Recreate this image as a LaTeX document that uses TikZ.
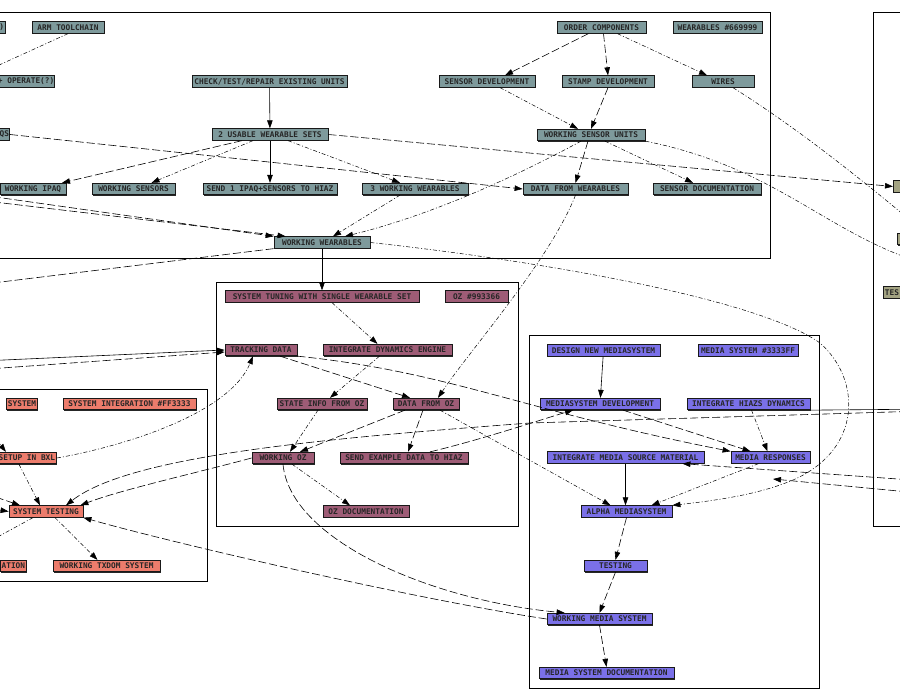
\documentclass[tikz,border=0pt]{standalone}
\usepackage{fontspec}
\setmonofont{DejaVu Sans Mono}
\usepackage{xcolor}
\usetikzlibrary{arrows.meta,shadows}
\definecolor{wearcol}{RGB}{126,154,156}
\definecolor{ozcol}{RGB}{158,92,118}
\definecolor{mediacol}{RGB}{122,112,232}
\definecolor{syscol}{RGB}{236,124,108}
\definecolor{integcol}{RGB}{163,163,130}

\begin{document}
\begin{tikzpicture}[x=1pt,y=-1pt,
  >={Triangle[length=8pt,width=5.5pt]},
  box/.style={draw=black!90, line width=0.8pt, text=black!85,
    font=\ttfamily\bfseries\fontsize{7.8}{8}\selectfont,
    general shadow={fill=black!85, shadow xshift=0.8pt, shadow yshift=-0.8pt},
    minimum height=11.5pt, inner xsep=1.5pt, inner ysep=1pt},
  wbox/.style={box, fill=wearcol},
  obox/.style={box, fill=ozcol},
  mbox/.style={box, fill=mediacol},
  sbox/.style={box, fill=syscol},
  ibox/.style={box, fill=integcol},
  cluster/.style={draw=black, line width=0.7pt},
  solidedge/.style={->, line width=0.6pt},
  dashedge/.style={->, line width=0.6pt, dash pattern=on 8pt off 3pt},
  dotedge/.style={->, line width=0.5pt, dash pattern=on 4pt off 2pt on 1pt off 2pt}]
\useasboundingbox (0,0) rectangle (900,700);
\fill[white] (0,0) rectangle (900,700);
\clip (0,0) rectangle (900,700);
% кластеры
\draw[cluster] (-20,12) rectangle (770,258);
\draw[cluster] (873,12) rectangle (930,526);
\draw[cluster] (216,282) rectangle (518,526);
\draw[cluster] (529,335) rectangle (819,688);
\draw[cluster] (-20,389) rectangle (207,581);
% узлы: wearables
\node[wbox, anchor=east] (qmark) at (6,27.5) {?)};
\node[wbox, minimum width=72pt] (armtool) at (68,27.5) {ARM TOOLCHAIN};
\node[wbox, anchor=east, inner xsep=0.3pt] (operate) at (55,81.5) {+ OPERATE(?)};
\node[wbox, anchor=east, inner xsep=0.5pt] (qs) at (10,134.5) {QS};
\node[wbox, minimum width=155pt] (check) at (269.5,81.5) {CHECK/TEST/REPAIR EXISTING UNITS};
\node[wbox, minimum width=116pt] (usable) at (270,134.5) {2 USABLE WEARABLE SETS};
\node[wbox, minimum width=66pt] (ipaq) at (33,189) {WORKING IPAQ};
\node[wbox, minimum width=83pt] (wsensors) at (133.5,189) {WORKING SENSORS};
\node[wbox, minimum width=134pt] (send) at (270,189) {SEND 1 IPAQ+SENSORS TO HIAZ};
\node[wbox, minimum width=106pt] (threeww) at (415,189) {3 WORKING WEARABLES};
\node[wbox, minimum width=96pt] (wwear) at (322,242.5) {WORKING WEARABLES};
\node[wbox, minimum width=89pt] (order) at (601.5,27.5) {ORDER COMPONENTS};
\node[wbox, minimum width=89pt] (wlegend) at (717.5,27.5) {WEARABLES \#669999};
\node[wbox, minimum width=96pt] (sensdev) at (487,81.5) {SENSOR DEVELOPMENT};
\node[wbox, minimum width=92pt] (stamp) at (608,81.5) {STAMP DEVELOPMENT};
\node[wbox, minimum width=62pt] (wires) at (723,81.5) {WIRES};
\node[wbox, minimum width=108pt] (wsu) at (591,135) {WORKING SENSOR UNITS};
\node[wbox, minimum width=105pt] (datawear) at (575.5,189) {DATA FROM WEARABLES};
\node[wbox, minimum width=108pt] (sensdoc) at (707,189) {SENSOR DOCUMENTATION};
% узлы: справа
\node[ibox, anchor=west, minimum width=40pt, align=left] (inta) at (893,186.5) {T};
\node[ibox, anchor=west, minimum width=40pt] (intb) at (897,239) {};
\node[ibox, anchor=west] (intc) at (883,292.5) {TES};
% узлы: oz
\node[obox, minimum width=194pt] (tuning) at (322,296.5) {SYSTEM TUNING WITH SINGLE WEARABLE SET};
\node[obox, minimum width=63pt] (ozlegend) at (476.5,296.5) {OZ \#993366};
\node[obox, minimum width=72pt] (tracking) at (261,350) {TRACKING DATA};
\node[obox, minimum width=129pt] (integdyn) at (387.5,350) {INTEGRATE DYNAMICS ENGINE};
\node[obox, minimum width=90pt] (stateinfo) at (322,404) {STATE INFO FROM OZ};
\node[obox, minimum width=66pt] (dataoz) at (426,404) {DATA FROM OZ};
\node[obox, minimum width=62pt] (workoz) at (283,458) {WORKING OZ};
\node[obox, minimum width=128pt] (sendex) at (404,458) {SEND EXAMPLE DATA TO HIAZ};
\node[obox, minimum width=86pt] (ozdoc) at (366,511.5) {OZ DOCUMENTATION};
% узлы: media
\node[mbox, minimum width=113pt] (designms) at (603.5,350.5) {DESIGN NEW MEDIASYSTEM};
\node[mbox, minimum width=100pt] (mlegend) at (748,350.5) {MEDIA SYSTEM \#3333FF};
\node[mbox, minimum width=120pt] (msdev) at (600,404) {MEDIASYSTEM DEVELOPMENT};
\node[mbox, minimum width=123pt] (hiazdyn) at (748.5,404) {INTEGRATE HIAZS DYNAMICS};
\node[mbox, minimum width=157pt] (msource) at (625.5,457.5) {INTEGRATE MEDIA SOURCE MATERIAL};
\node[mbox, minimum width=79pt] (mresp) at (770.5,457.5) {MEDIA RESPONSES};
\node[mbox, minimum width=91pt] (alpha) at (626.5,511.5) {ALPHA MEDIASYSTEM};
\node[mbox, minimum width=63pt] (testing) at (615.5,566) {TESTING};
\node[mbox, minimum width=105pt] (wmedia) at (599.5,619) {WORKING MEDIA SYSTEM};
\node[mbox, minimum width=135pt] (mdoc) at (606.5,673) {MEDIA SYSTEM DOCUMENTATION};
% узлы: system integration
\node[sbox, anchor=east] (sysx) at (38,404) {SYSTEM};
\node[sbox, minimum width=133pt] (silegend) at (129.5,404) {SYSTEM INTEGRATION \#FF3333};
\node[sbox, anchor=east] (setup) at (57,458) {SETUP IN BXL};
\node[sbox, minimum width=74pt] (systest) at (46,511.5) {SYSTEM TESTING};
\node[sbox, anchor=east] (ation) at (27,566) {ATION};
\node[sbox, minimum width=107pt] (txdom) at (106.5,566) {WORKING TXDOM SYSTEM};
% концы за краем
\coordinate (opin) at (-25,76);
\coordinate (offa) at (-40,192);
\coordinate (offb) at (-40,198);
\coordinate (wwleft) at (-40,287);
\coordinate (wiresoff) at (940,245);
\coordinate (wsuoff) at (940,268);
\coordinate (trla) at (-40,362);
\coordinate (trlb) at (-40,371);
\coordinate (setupin) at (-15,425);
\coordinate (stla) at (-25,490);
\coordinate (stlb) at (-25,506);
\coordinate (stoff) at (-30,552);
\coordinate (hzout) at (940,409);
\coordinate (hzin) at (940,410.5);
\coordinate (rsa) at (940,482);
\coordinate (rsb) at (940,495);
\coordinate (rbend) at (773,479);
% связи: wearables
\draw[dotedge] (armtool.south) -- (opin);
\draw[solidedge] (check) -- (usable);
\draw[dashedge] ([xshift=-28pt]usable.south) -- ([xshift=29pt]ipaq.north);
\draw[dotedge] ([xshift=-17pt]usable.south) -- ([xshift=18pt]wsensors.north);
\draw[solidedge] (usable) -- (send);
\draw[dotedge] ([xshift=18pt]usable.south) -- ([xshift=-15pt]threeww.north);
\draw[dashedge] (usable.east) -- (inta.west);
\draw[dashedge] (qs.east) -- (datawear.west);
\draw[dashedge] (offa) -- (wwear.north west);
\draw[dashedge] (offb) -- ([xshift=12pt]wwear.north west);
\draw[dotedge] ([xshift=-15pt]threeww.south) -- ([xshift=11pt]wwear.north);
\draw[dotedge] ([xshift=-10pt]wsu.south) .. controls (500,185) and (420,218) .. ([xshift=23pt]wwear.north);
\draw[dashedge] ([xshift=-13pt]order.south) -- ([xshift=18pt]sensdev.north);
\draw[dashedge] ([xshift=2pt]order.south) -- (stamp.north);
\draw[dotedge] ([xshift=16pt]order.south) -- ([xshift=-16pt]wires.north);
\draw[dotedge] ([xshift=13pt]sensdev.south) -- ([xshift=-13pt]wsu.north);
\draw[dashedge] (stamp.south) -- (wsu.north);
\draw[dotedge] ([xshift=10pt]wires.south) .. controls (800,130) and (860,178) .. (wiresoff);
\draw[dashedge] ([xshift=-3pt]wsu.south) -- (datawear.north);
\draw[dotedge] ([xshift=14pt]wsu.south) -- ([xshift=-14pt]sensdoc.north);
\draw[dotedge] (wsu.south east) .. controls (780,168) and (830,238) .. (wsuoff);
\draw[dotedge] (datawear.south) .. controls (550,260) and (470,350) .. ([xshift=12pt]dataoz.north);
\draw[solidedge] (wwear) -- (tuning);
\draw[dashedge] (wwear.south west) -- (wwleft);
\draw[dotedge] (wwear.east) .. controls (550,262) and (760,300) .. (820,343)
  .. controls (862,380) and (862,450) .. (793,480)
  .. controls (760,494) and (720,500) .. (alpha.north east);
% связи: oz
\draw[dotedge] ([xshift=10pt]tuning.south) -- ([xshift=-10pt]integdyn.north);
\draw[dashedge] ([xshift=19pt]tracking.south) -- ([xshift=-16pt]dataoz.north);
\draw[dashedge] (tracking.south east) .. controls (450,372) and (520,410) .. (mresp.north west);
\draw[dotedge] ([xshift=-8pt]integdyn.south) -- ([xshift=8pt]stateinfo.north);
\draw[dotedge] ([xshift=-4pt]stateinfo.south) -- ([xshift=7pt]workoz.north);
\draw[dashedge] ([xshift=-21pt]dataoz.south) -- ([xshift=17pt]workoz.north);
\draw[dashedge] ([xshift=-3pt]dataoz.south) -- ([xshift=4pt]sendex.north);
\draw[dotedge] ([xshift=14pt]dataoz.south) -- ([xshift=-16pt]alpha.north);
\draw[dashedge] ([xshift=26pt]sendex.north) .. controls (480,440) and (540,420) .. ([xshift=-27pt]msdev.south);
\draw[dotedge] ([xshift=9pt]workoz.south) -- ([xshift=-16pt]ozdoc.north);
\draw[dashedge] (workoz.south) .. controls (290,540) and (430,600) .. ([xshift=18pt]wmedia.north west);
\draw[dashedge] (workoz.west) .. controls (200,472) and (120,490) .. ([xshift=-3pt]systest.north east);
% связи: system integration
\draw[dotedge] (setup.east) .. controls (130,445) and (230,412) .. ([xshift=-8pt]tracking.south);
\draw[solidedge] (trla) -- (tracking.west);
\draw[dashedge] (trlb) -- ([yshift=-2pt]tracking.west);
\draw[dotedge] ([xshift=-8pt]setup.south) -- ([xshift=-6pt]systest.north);
\draw[dotedge] (setupin) -- ([xshift=-21pt]setup.north);
\draw[dashedge] (stla) -- ([xshift=-26pt]systest.north);
\draw[dashedge] (stlb) -- (systest.west);
\draw[dotedge] ([xshift=9pt]systest.south) -- ([xshift=-9pt]txdom.north);
\draw[dotedge] ([xshift=-13pt]systest.south) -- (stoff);
\draw[dashedge] (wmedia.west) .. controls (420,600) and (180,545) .. (systest.south east);
\draw[dashedge] (hzin) -- (530,423) .. controls (330,438) and (130,455) .. ([xshift=20pt]systest.north);
% связи: media
\draw[solidedge] (hiazdyn.south east) -- (hzout);
\draw[solidedge] (designms) -- (msdev);
\draw[dashedge] ([xshift=23pt]msdev.south) -- ([xshift=-20pt]mresp.north);
\draw[dotedge] ([xshift=3pt]hiazdyn.south) -- ([xshift=-3pt]mresp.north);
\draw[solidedge] (msource.south) -- (msource.south |- alpha.north);
\draw[dotedge] ([xshift=-12pt]mresp.south) -- ([xshift=25pt]alpha.north);
\draw[dashedge] (alpha.south) -- (testing.north);
\draw[dashedge] (testing.south) -- (wmedia.north);
\draw[dashedge] (wmedia.south) -- (mdoc.north);
\draw[dashedge] (rsa) -- ([xshift=-22pt]msource.south east);
\draw[dashedge] (rsb) -- (rbend);
\end{tikzpicture}
\end{document}
